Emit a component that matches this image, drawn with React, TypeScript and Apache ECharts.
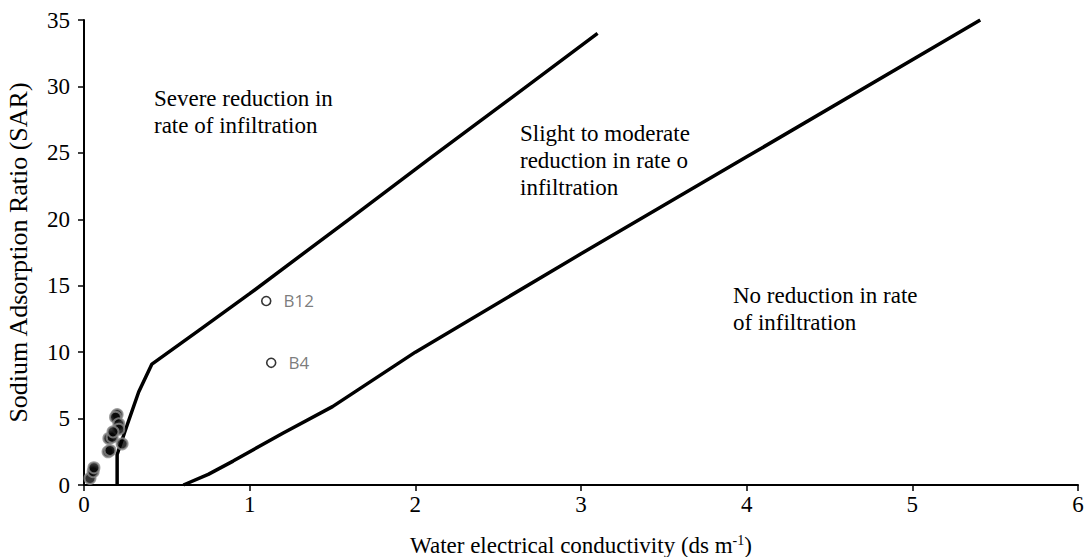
import React, { useEffect, useRef } from "react";
import * as echarts from "echarts";

const severeBoundEC = [0.2, 0.2, 0.26, 0.33, 0.41, 0.7, 1.0, 1.6, 2.1, 2.5, 3.1];
const severeBoundSAR = [0, 2.3, 4.5, 7.0, 9.1, 11.7, 14.4, 20.0, 24.7, 28.4, 34.0];
const noneBoundEC = [0.6, 0.75, 0.9, 1.2, 1.5, 2.0, 3.0, 4.0, 5.41];
const noneBoundSAR = [0, 0.8, 1.8, 3.9, 5.9, 10.0, 17.4, 24.7, 35.0];

const sampleEC = [0.036, 0.055, 0.06, 0.145, 0.157, 0.15, 0.17, 0.2, 0.19, 0.21, 0.21, 0.23, 0.175];
const sampleSAR = [0.5, 1.0, 1.3, 2.5, 2.6, 3.5, 3.6, 5.3, 5.1, 4.6, 4.2, 3.1, 4.0];

const labelledNames = ["B12", "B4"];
const labelledEC = [1.1, 1.13];
const labelledSAR = [13.85, 9.2];

const xTicks = [0, 6, 1];
const yTicks = [0, 35, 5];

const serif = "Liberation Serif";

export default function App() {
  const ref = useRef<HTMLDivElement>(null);
  useEffect(() => {
    if (!ref.current) return;
    const chart = echarts.init(ref.current, null, { renderer: "svg" });
    const zip = (a: number[], b: number[]) => a.map((v, i) => [v, b[i]]);
    chart.setOption({
      animation: false,
      backgroundColor: "#fff",
      grid: { left: 84, right: 8, top: 20, bottom: 72, containLabel: false, outerBoundsMode: "none" },
      xAxis: {
        type: "value",
        min: xTicks[0],
        max: xTicks[1],
        interval: xTicks[2],
        name: "{a|Water electrical conductivity (ds m}{s|-1}{a|)}",
        nameLocation: "middle",
        nameGap: 48,
        nameTextStyle: {
          rich: {
            a: { fontFamily: serif, fontSize: 23, color: "#000" },
            s: { fontFamily: serif, fontSize: 14, color: "#000", verticalAlign: "top", padding: [0, 0, 10, 0] },
          },
        },
        axisLine: { lineStyle: { color: "#000", width: 2 } },
        axisTick: { show: true, length: 6, lineStyle: { color: "#000", width: 1.5 } },
        axisLabel: { fontFamily: serif, fontSize: 23, color: "#000", margin: 8 },
        splitLine: { show: false },
      },
      yAxis: {
        type: "value",
        min: yTicks[0],
        max: yTicks[1],
        interval: yTicks[2],
        name: "Sodium Adsorption Ratio (SAR)",
        nameLocation: "middle",
        nameGap: 53,
        nameTextStyle: { fontFamily: serif, fontSize: 26, color: "#000" },
        axisLine: { show: true, lineStyle: { color: "#000", width: 2 } },
        axisTick: { show: true, length: 6, lineStyle: { color: "#000", width: 1.5 } },
        axisLabel: { fontFamily: serif, fontSize: 23, color: "#000", margin: 14 },
        splitLine: { show: false },
      },
      graphic: [
        {
          type: "text",
          left: 154,
          top: 85,
          style: { text: "Severe reduction in\nrate of infiltration", font: `23px ${serif}`, fill: "#000", lineHeight: 27 },
        },
        {
          type: "text",
          left: 520,
          top: 120,
          style: { text: "Slight to moderate\nreduction in rate o\ninfiltration", font: `23px ${serif}`, fill: "#000", lineHeight: 27 },
        },
        {
          type: "text",
          left: 733,
          top: 282,
          style: { text: "No reduction in rate\nof infiltration", font: `23px ${serif}`, fill: "#000", lineHeight: 27 },
        },
      ],
      series: [
        {
          type: "line",
          data: zip(severeBoundEC, severeBoundSAR),
          showSymbol: false,
          lineStyle: { color: "#000", width: 3.5 },
          z: 2,
        },
        {
          type: "line",
          data: zip(noneBoundEC, noneBoundSAR),
          showSymbol: false,
          lineStyle: { color: "#000", width: 3.5 },
          z: 2,
        },
        {
          type: "scatter",
          data: zip(sampleEC, sampleSAR),
          symbolSize: 11,
          itemStyle: { color: "#000", borderColor: "#8a8a8a", borderWidth: 2 },
          z: 3,
        },
        {
          type: "scatter",
          data: labelledNames.map((n, i) => ({ name: n, value: [labelledEC[i], labelledSAR[i]] })),
          symbolSize: 9,
          itemStyle: { color: "#fff", borderColor: "#000", borderWidth: 1.6 },
          label: {
            show: true,
            position: "right",
            distance: 12,
            formatter: "{b}",
            fontFamily: "Open Sans",
            fontSize: 17,
            color: "#595959",
          },
          z: 3,
        },
      ],
    });
    return () => chart.dispose();
  }, []);
  return <div ref={ref} style={{ position: "fixed", left: 0, top: 0, width: 1086, height: 557 }} />;
}
